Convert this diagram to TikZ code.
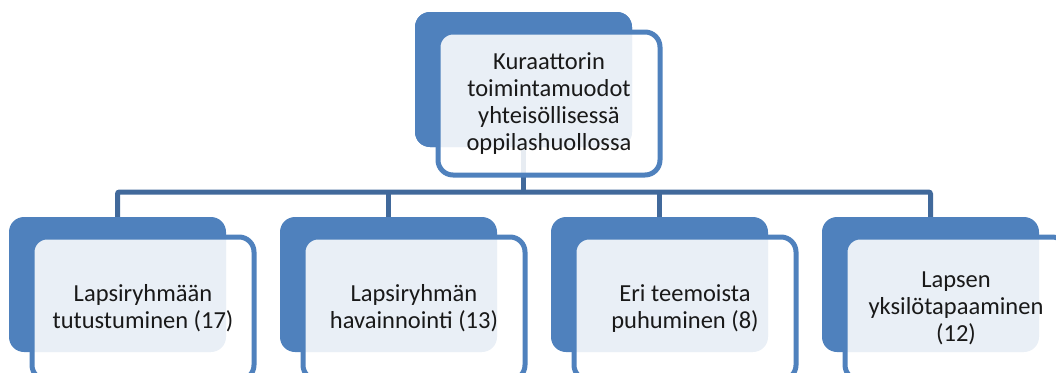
\documentclass[tikz,border=0pt]{standalone}
\usepackage{fontspec}
\setmainfont{Carlito}
\definecolor{accent}{HTML}{4F81BD}
\definecolor{connc}{HTML}{41699B}
\begin{document}
\begin{tikzpicture}[x=1pt,y=-1pt,
  backbox/.style={fill=accent,draw=none,rounded corners=15pt,minimum width=217pt,minimum height=135pt,inner sep=0pt},
  frontbox/.style={draw=accent,line width=5pt,fill=white,fill opacity=0.88,text opacity=1,rounded corners=15pt,minimum width=222pt,minimum height=143pt,inner sep=0pt,align=center,text=black!90,font=\fontsize{24.5pt}{26.7pt}\selectfont},
  conn/.style={draw=connc,line width=5pt,rounded corners=2pt}]
\useasboundingbox (0,0) rectangle (1056,372);
% back boxes (positions)
\coordinate (bus) at (523.5,192);
\node[backbox] (b0) at (523.5,79.5) {};
\node[backbox] (c1) at (117.5,284.5) {};
\node[backbox] (c2) at (388.5,284.5) {};
\node[backbox] (c3) at (659.5,284.5) {};
\node[backbox] (c4) at (930.5,284.5) {};
% connectors
\draw[conn] (b0.center) -- (bus);
\draw[conn] (c1.north) -- (c1.north |- bus) -- (c4.north |- bus) -- (c4.north);
\draw[conn] (c2.north) -- (c2.north |- bus);
\draw[conn] (c3.north) -- (c3.north |- bus);
% back box drawn over connector
\node[backbox] at (b0) {};
% front boxes
\node[frontbox] (f0) at (549,103.5) {Kuraattorin\\toimintamuodot\\yhteisöllisessä\\oppilashuollossa};
\node[frontbox] (f1) at (143,308.5) {Lapsiryhmään\\tutustuminen (17)};
\node[frontbox] (f2) at (414,308.5) {Lapsiryhmän\\havainnointi (13)};
\node[frontbox] (f3) at (685,308.5) {Eri teemoista\\puhuminen (8)};
\node[frontbox] (f4) at (956,308.5) {Lapsen\\yksilötapaaminen\\(12)};
\end{tikzpicture}
\end{document}
